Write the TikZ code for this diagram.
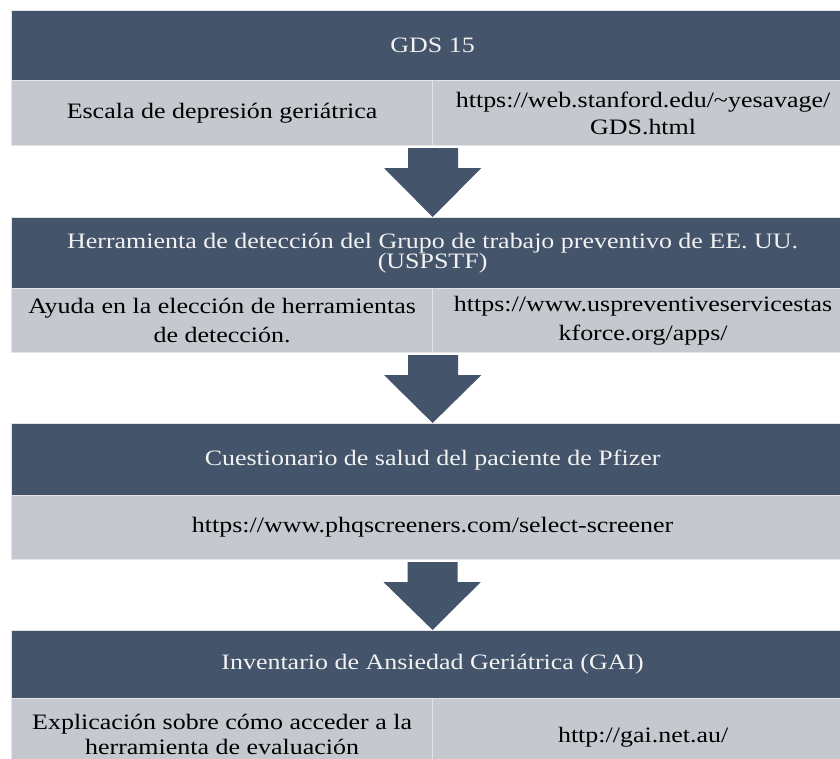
\documentclass[tikz,border=0pt]{standalone}
\usepackage{fontspec}
\setmainfont{Liberation Serif}[FakeStretch=1.18]
\usetikzlibrary{calc}
\definecolor{darkc}{HTML}{44546A}
\definecolor{lightc}{HTML}{C5C8CE}
\definecolor{sepc}{HTML}{E2E4E8}
\definecolor{headtxt}{HTML}{F2F2F2}
\tikzset{
  band/.style={anchor=north west, draw=sepc, line width=1.2pt, inner sep=0pt, align=center},
  darkbar/.style={band, fill=darkc, text=headtxt, minimum width=842pt},
  cellbox/.style={band, fill=lightc, text=black, minimum width=421pt},
  widecell/.style={band, fill=lightc, text=black, minimum width=842pt},
  arrowc/.style={fill=darkc, draw=none}
}
\newcommand\blockarrow[2]{%
  \fill[arrowc] ($(#1)+(-25,2)$) -- ($(#1)+(-25,22)$) -- ($(#1)+(-49,22)$) -- (#2)
    -- ($(#1)+(48,22)$) -- ($(#1)+(25,22)$) -- ($(#1)+(25,2)$) -- cycle;}
\begin{document}
\begin{tikzpicture}[x=1pt,y=-1pt]
\clip (0,0) rectangle (840,759);
\fill[white] (0,0) rectangle (840,759);
% Section 1
\node[darkbar, minimum height=70pt, font=\fontsize{22}{26}\selectfont] (h1) at (11,10) {GDS 15};
\node[cellbox, minimum height=65pt, font=\fontsize{22}{26}\selectfont] (l1) at (11,80) {Escala de depresión geriátrica};
\node[cellbox, minimum height=65pt, font=\fontsize{22}{27}\selectfont] (r1) at (432,80) {https://web.stanford.edu/\textasciitilde yesavage/\\GDS.html};
% Section 2
\node[darkbar, minimum height=71pt, font=\fontsize{22}{20}\selectfont] (h2) at (11,217) {Herramienta de detección del Grupo de trabajo preventivo de EE.\ UU.\\(USPSTF)};
\node[cellbox, minimum height=64pt, font=\fontsize{22}{29}\selectfont] (l2) at (11,288) {Ayuda en la elección de herramientas\\de detección.};
\node[cellbox, minimum height=64pt, font=\fontsize{22}{29}\selectfont] (r2) at (432,288) {https://www.uspreventiveservicestas\\kforce.org/apps/};
% Section 3
\node[darkbar, minimum height=72pt, font=\fontsize{22}{26}\selectfont] (h3) at (11,423) {Cuestionario de salud del paciente de Pfizer};
\node[widecell, minimum height=64pt, font=\fontsize{22}{26}\selectfont] (l3) at (11,495) {https://www.phqscreeners.com/select-screener};
% Section 4
\node[darkbar, minimum height=68pt, font=\fontsize{22}{26}\selectfont] (h4) at (11,630) {Inventario de Ansiedad Geriátrica (GAI)};
\node[cellbox, minimum height=72pt, font=\fontsize{22}{25}\selectfont] (l4) at (11,698) {Explicación sobre cómo acceder a la\\herramienta de evaluación};
\node[cellbox, minimum height=78pt, font=\fontsize{22}{26}\selectfont] (r4) at (432,698) {http://gai.net.au/};
% Arrows
\blockarrow{l1.south east}{h2.north}
\blockarrow{l2.south east}{h3.north}
\blockarrow{l3.south}{h4.north}
\end{tikzpicture}
\end{document}
